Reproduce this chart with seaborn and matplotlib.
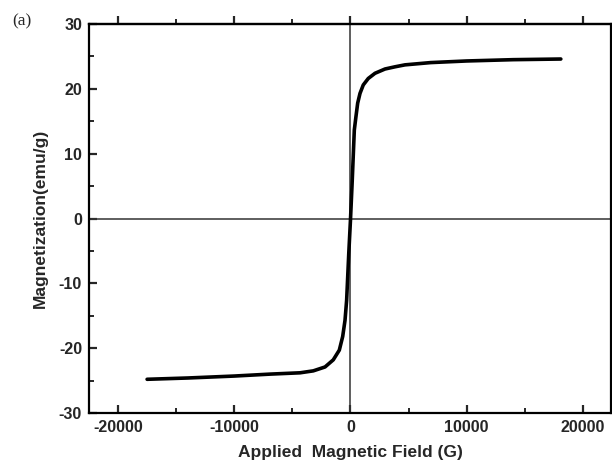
import matplotlib
matplotlib.use("Agg")
import matplotlib.pyplot as plt
from matplotlib.ticker import MultipleLocator
import seaborn as sns
import pandas as pd

# Field (G) and magnetization (emu/g)
field_neg = [-17500, -14000, -10000, -6900, -4340, -3200, -2190, -1480, -960, -670, -470, -330, -150]
mag_neg = [-24.8, -24.6, -24.3, -24.0, -23.8, -23.5, -22.9, -21.8, -20.3, -18.2, -15.7, -12.6, -5.5]
field_pos = [0, 150, 330, 470, 620, 820, 1100, 1530, 2110, 2970, 3830, 4690, 6900, 10000, 14000, 18100]
mag_pos = [-0.2, 5.8, 13.65, 15.7, 17.8, 19.3, 20.6, 21.6, 22.4, 23.06, 23.4, 23.7, 24.05, 24.3, 24.5, 24.6]

x_ticks = [-20000, -10000, 0, 10000, 20000]
y_ticks = [-30, -20, -10, 0, 10, 20, 30]

df = pd.DataFrame({"H": field_neg + field_pos, "M": mag_neg + mag_pos})

sns.set_style("ticks")
plt.rcParams["font.family"] = ["Liberation Sans", "DejaVu Sans"]
plt.rcParams["axes.unicode_minus"] = False

fig = plt.figure(figsize=(6.12, 4.69), dpi=100)
ax = fig.add_axes([0.1454, 0.1194, 0.8536, 0.8294])

ax.axhline(0, color="#333333", lw=1.1, zorder=1)
ax.axvline(0, color="#333333", lw=1.1, zorder=1)
sns.lineplot(data=df, x="H", y="M", sort=False, color="black", lw=2.6, ax=ax, zorder=3)

ax.set_xlim(-22500, 22450)
ax.set_ylim(-30, 30)
ax.set_xticks(x_ticks)
ax.set_yticks(y_ticks)
ax.xaxis.set_minor_locator(MultipleLocator(5000))
ax.yaxis.set_minor_locator(MultipleLocator(5))

for s in ax.spines.values():
    s.set_linewidth(1.6)
    s.set_color("black")

ax.tick_params(axis="both", which="major", direction="in", length=6, width=1.6,
               labelsize=11.5, pad=5)
ax.tick_params(axis="both", which="minor", direction="in", length=3.5, width=1.4)
for lab in ax.get_xticklabels() + ax.get_yticklabels():
    lab.set_fontweight("bold")

# top axis ticks pointing outward (secondary axis)
sec = ax.secondary_xaxis("top")
sec.set_xticks(x_ticks)
sec.xaxis.set_minor_locator(MultipleLocator(5000))
sec.tick_params(which="major", direction="out", length=6, width=1.6, labeltop=False)
sec.tick_params(which="minor", direction="out", length=3.5, width=1.4)
sec.spines["top"].set_linewidth(1.6)

ax.set_xlabel("Applied  Magnetic Field (G)", fontsize=12.5, fontweight="bold", labelpad=7)
ax.set_ylabel("Magnetization(emu/g)", fontsize=12.5, fontweight="bold", labelpad=8)

fig.text(0.02, 0.955, "(a)", fontsize=12.5, family=["Liberation Serif", "DejaVu Serif"],
         ha="left", va="center")

fig.savefig("out.png", dpi=100, facecolor="white")
